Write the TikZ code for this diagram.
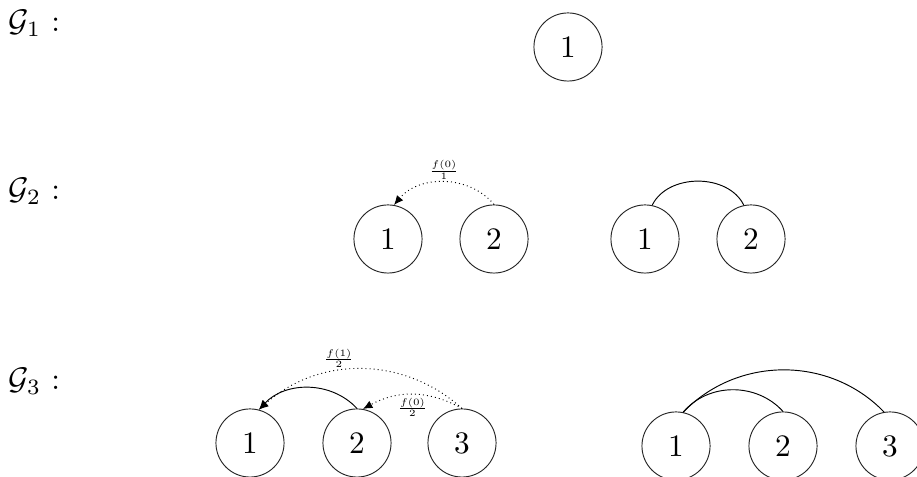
\documentclass[tikz,border=0pt]{standalone}
\usetikzlibrary{arrows.meta}
\begin{document}
\begin{tikzpicture}[x=0.32pt,y=0.32pt,
  every path/.style={line width=0.3pt},
  vtx/.style={circle,draw=black!85,line width=0.3pt,minimum size=21.8pt,inner sep=0pt},
  glabel/.style={anchor=base west,inner sep=0pt},
  flabel/.style={font=\scriptsize,inner sep=1.5pt,scale=0.62},
  arr/.style={-{Latex[length=3pt,width=2.6pt]}},
  dots/.style={densely dotted}]
\useasboundingbox (0,0) rectangle (917,477);
% labels
\node[glabel] (g1) at (8,445) {$\mathcal{G}_1$ :};
\node[glabel] (g2) at (8,277) {$\mathcal{G}_2$ :};
\node[glabel] (g3) at (8,87) {$\mathcal{G}_3$ :};
% G1
\node[vtx] (a) at (568,430) {1};
% G2 left
\node[vtx] (b1) at (388,238) {1};
\node[vtx] (b2) at (494,238) {2};
\draw[arr,dots] (b2.north) to[out=130,in=50] node[flabel,above] {$\frac{f(0)}{1}$} (b1.80);
% G2 right
\node[vtx] (c1) at (645,238) {1};
\node[vtx] (c2) at (751,238) {2};
\draw (c1.78) to[out=64,in=116] (c2.102);
% G3 left
\node[vtx] (d1) at (250,34) {1};
\node[vtx] (d2) at (357,34) {2};
\node[vtx] (d3) at (462,34) {3};
\draw[arr] (d2.north) to[out=133,in=47] (d1.75);
\draw[arr,dots] (d3.north) to[out=138,in=42] node[flabel,above,pos=0.6] {$\frac{f(1)}{2}$} (d1.75);
\draw[arr,dots] (d3.north) to[out=151,in=29] node[flabel,below,pos=0.5] {$\frac{f(0)}{2}$} (d2.80);
% G3 right
\node[vtx] (e1) at (676,31) {1};
\node[vtx] (e2) at (783,31) {2};
\node[vtx] (e3) at (890,31) {3};
\draw (e1.78) to[out=50,in=132] (e2.north);
\draw (e1.78) to[out=46,in=134] (e3.100);
\end{tikzpicture}
\end{document}
